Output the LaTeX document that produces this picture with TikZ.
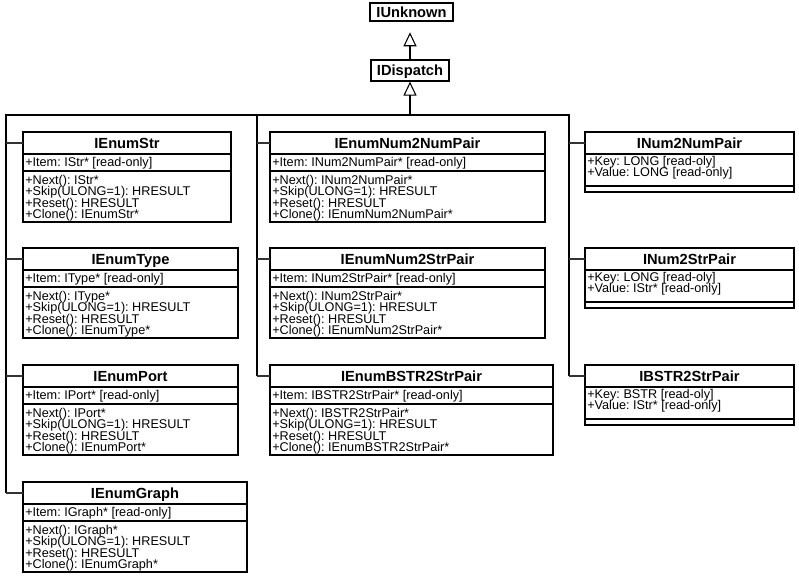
\documentclass[tikz,border=0pt]{standalone}
\usepackage{fontspec}
\setmainfont{Liberation Sans}
\usetikzlibrary{arrows.meta,fit}
\frenchspacing

\tikzset{
  classbox/.style={draw, line width=0.9pt, inner sep=0pt},
  compsep/.style={line width=1.1pt},
  titletext/.style={font=\fontsize{11}{13}\selectfont\bfseries, inner sep=0pt, anchor=base},
  member/.style={font=\fontsize{9.5}{11}\selectfont, inner sep=0pt, anchor=base west},
  trunk/.style={line width=1.5pt},
  stub/.style={line width=0.8pt, black!80},
  genarrow/.tip={Triangle[open, length=10.5pt, width=9.75pt, line width=0.8pt]}
}

% Enumerator interface: name, left, top, right, element type, interface name
\newcommand{\enumbox}[6]{%
  \node[classbox, fit={(#2,#3) (#4,#3+90)}] (#1) {};
  \draw[compsep] (#2,#3+22) -- (#4,#3+22) (#2,#3+39) -- (#4,#3+39);
  \node[titletext] (#1-title) at ({(#2+#4)/2},#3+16) {#6};
  \node[member] (#1-item)  at (#2+2,#3+34)   {+Item: #5* [read-only]};
  \node[member] (#1-next)  at (#2+2,#3+52.5) {+Next(): #5*};
  \node[member] (#1-skip)  at (#2+2,#3+63.8) {+Skip(ULONG=1): HRESULT};
  \node[member] (#1-reset) at (#2+2,#3+75.1) {+Reset(): HRESULT};
  \node[member] (#1-clone) at (#2+2,#3+86.4) {+Clone(): #6*};
  \coordinate (#1-in) at (#2,#3+11);
}

% Key/value pair interface: name, left, top, right, interface name, key type, value type
\newcommand{\pairbox}[7]{%
  \node[classbox, fit={(#2,#3) (#4,#3+60)}] (#1) {};
  \draw[compsep] (#2,#3+22) -- (#4,#3+22) (#2,#3+54) -- (#4,#3+54);
  \node[titletext] (#1-title) at ({(#2+#4)/2},#3+16) {#5};
  \node[member] (#1-key)   at (#2+2,#3+33) {+Key: #6 [read-oly]};
  \node[member] (#1-value) at (#2+2,#3+44) {+Value: #7 [read-only]};
  \coordinate (#1-in) at (#2,#3+11);
}

\begin{document}
\begin{tikzpicture}[x=0.75pt, y=-0.75pt]
\useasboundingbox (0,0) rectangle (799,575);

% base interfaces
\node[classbox, fit={(370,3) (453,21)}] (unk) {};
\node[titletext] (unk-title) at (411.5,17) {IUnknown};
\node[classbox, fit={(371,60) (449,81)}] (disp) {};
\node[titletext] (disp-title) at (410,75.5) {IDispatch};

% enumerators
\enumbox{estr}{23}{132}{231}{IStr}{IEnumStr}
\enumbox{etype}{23}{248}{238}{IType}{IEnumType}
\enumbox{eport}{23}{365}{238}{IPort}{IEnumPort}
\enumbox{egraph}{23}{482}{247}{IGraph}{IEnumGraph}
\enumbox{enn}{270}{132}{545}{INum2NumPair}{IEnumNum2NumPair}
\enumbox{ens}{270}{248}{545}{INum2StrPair}{IEnumNum2StrPair}
\enumbox{ebs}{270}{365}{553}{IBSTR2StrPair}{IEnumBSTR2StrPair}

% pairs
\pairbox{nn}{585}{132}{794}{INum2NumPair}{LONG}{LONG}
\pairbox{ns}{585}{248}{794}{INum2StrPair}{LONG}{IStr*}
\pairbox{bs}{585}{365}{794}{IBSTR2StrPair}{BSTR}{IStr*}

% IDispatch derives from IUnknown
\draw[line width=0.9pt, -{genarrow}, shorten >=8pt] (disp.north) -- (disp.north |- unk.south);

% shared generalization tree towards IDispatch
\coordinate (hub)  at (410,115);
\coordinate (busL) at (6,115);
\coordinate (busM) at (257,115);
\coordinate (busR) at (569,115);
\draw[trunk, {genarrow}-] (disp.south) -- (hub);
\draw[trunk] (busL |- egraph-in) -- (busL) -- (busR) -- (busR |- bs-in);
\draw[trunk] (busM) -- (busM |- ebs-in);

\foreach \b in {estr,etype,eport,egraph}
  \draw[stub] (busL |- \b-in) -- (\b-in);
\foreach \b in {enn,ens,ebs}
  \draw[stub] (busM |- \b-in) -- (\b-in);
\foreach \b in {nn,ns,bs}
  \draw[stub] (busR |- \b-in) -- (\b-in);
\end{tikzpicture}
\end{document}
